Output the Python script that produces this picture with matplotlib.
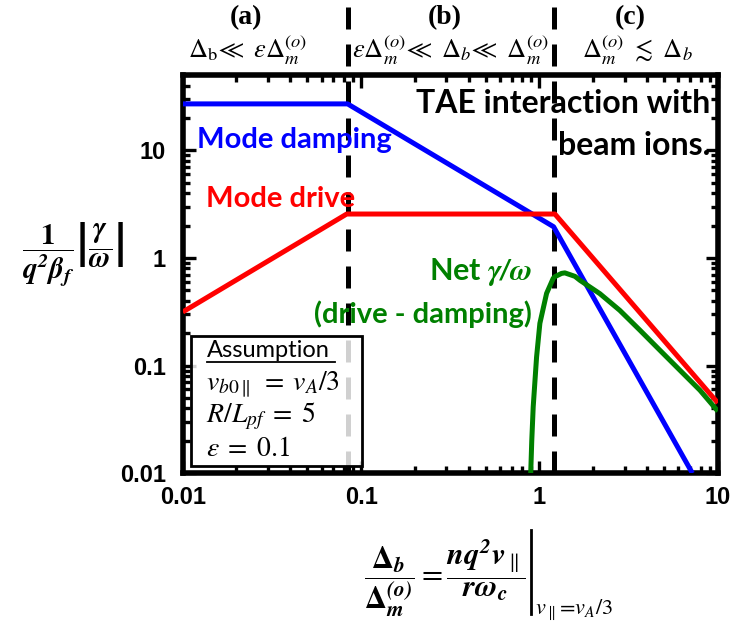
import matplotlib
matplotlib.use("Agg")
import matplotlib.pyplot as plt
from matplotlib.lines import Line2D
from matplotlib.patches import Rectangle

# ---- data ----
x_damp = [0.01, 0.084, 1.2, 7.2]
y_damp = [27.0, 27.0, 1.95, 0.01]

x_drive = [0.01, 0.083, 1.22, 10.0]
y_drive = [0.315, 2.56, 2.56, 0.045]

x_net = [0.889, 0.905, 0.922, 0.963, 1.005, 1.096, 1.194, 1.22, 1.33, 1.387, 1.58, 1.686,
         2.18, 2.82, 3.66, 4.73, 6.13, 7.94, 10.0]
y_net = [0.008, 0.02, 0.0413, 0.120, 0.247, 0.469, 0.647, 0.67, 0.719, 0.727, 0.675, 0.620,
         0.466, 0.326, 0.213, 0.139, 0.0905, 0.059, 0.0377]

regime_bounds = [0.084, 1.2]
x_ticks = [0.01, 0.1, 1, 10]
x_ticklabels = ["0.01", "0.1", "1", "10"]
y_ticks = [0.01, 0.1, 1, 10]
y_ticklabels = ["0.01", "0.1", "1", "10"]

plt.rcParams['mathtext.fontset'] = 'stix'
plt.rcParams['font.family'] = ['Liberation Sans', 'DejaVu Sans']

fig = plt.figure(figsize=(7.34, 6.31), dpi=100)
ax = fig.add_axes([0.249, 0.250, 0.729, 0.631])
ax.set_xscale('log')
ax.set_yscale('log')
ax.set_xlim(0.01, 10)
ax.set_ylim(0.01, 50)

lw = 3.6
ax.plot(x_damp, y_damp, color='#0000ff', lw=lw, solid_capstyle='butt', zorder=3)
ax.plot(x_drive, y_drive, color='#ff0000', lw=lw, solid_capstyle='butt', zorder=3)
ax.plot(x_net, y_net, color='#008000', lw=lw, solid_capstyle='butt', zorder=4)

for xb in regime_bounds:
    ax.axvline(xb, ymin=0, ymax=1.19, color='black', lw=3.6, dashes=(4.4, 3.0),
               clip_on=False, zorder=2)

ax.set_xticks(x_ticks)
ax.set_xticklabels(x_ticklabels)
ax.set_yticks(y_ticks)
ax.set_yticklabels(y_ticklabels)
ax.tick_params(which='both', direction='in', top=True, right=True, width=2.4, labelsize=17,
               color='black')
ax.tick_params(which='major', length=9)
ax.tick_params(which='minor', length=5)
for lab in ax.get_xticklabels() + ax.get_yticklabels():
    lab.set_fontweight('bold')
ax.tick_params(axis='x', which='both', pad=9)
ax.tick_params(axis='y', which='both', pad=12)
for s in ax.spines.values():
    s.set_linewidth(4)

# in-plot labels
sans = ['Lato', 'DejaVu Sans']
fs = 21
ax.text(0.026, 0.837, 'Mode damping', transform=ax.transAxes, color='#0000ff',
        fontsize=fs, fontweight='bold', family=sans, ha='left', va='center')
ax.text(0.043, 0.688, 'Mode drive', transform=ax.transAxes, color='#ff0000',
        fontsize=fs, fontweight='bold', family=sans, ha='left', va='center')
ax.text(0.985, 0.928, 'TAE interaction with', transform=ax.transAxes, color='black',
        fontsize=23, fontweight='bold', family=sans, ha='right', va='center')
ax.text(0.985, 0.824, 'beam ions.', transform=ax.transAxes, color='black',
        fontsize=23, fontweight='bold', family=sans, ha='right', va='center')
ax.text(0.652, 0.505, r'Net $\mathbfit{\gamma/\omega}$', transform=ax.transAxes, color='#008000',
        fontsize=22, fontweight='bold', family=sans, ha='right', va='center')
ax.text(0.652, 0.40, '(drive - damping)', transform=ax.transAxes, color='#008000',
        fontsize=fs, fontweight='bold', family=sans, ha='right', va='center')

# assumption box
bx, by, bw, bh = 0.015, 0.017, 0.32, 0.328
box = Rectangle((bx, by), bw, bh, transform=ax.transAxes, facecolor='white',
                alpha=0.82, edgecolor='none', zorder=5)
ax.add_patch(box)
box2 = Rectangle((bx, by), bw, bh, transform=ax.transAxes, facecolor='none',
                 edgecolor='black', lw=2.0, zorder=6)
ax.add_patch(box2)
ax.text(0.046, 0.309, 'Assumption', transform=ax.transAxes, fontsize=17, family=sans,
        ha='left', va='center', zorder=7)
ax.add_line(Line2D([0.046, 0.285], [0.279, 0.279], transform=ax.transAxes, color='black',
                   lw=1.3, zorder=7))
ax.text(0.044, 0.222, r'$v_{b0\parallel}\;=\;v_A/3$', transform=ax.transAxes, fontsize=20,
        ha='left', va='center', zorder=7)
ax.text(0.044, 0.144, r'$R/L_{pf}\;=\;5$', transform=ax.transAxes, fontsize=20,
        ha='left', va='center', zorder=7)
ax.text(0.044, 0.062, r'$\epsilon\;=\;0.1$', transform=ax.transAxes, fontsize=20,
        ha='left', va='center', zorder=7)

# regime labels above the axes
for xc, lab in [(246, '(a)'), (445, '(b)'), (630, '(c)')]:
    fig.text(xc / 734, 1 - 18 / 631, lab, fontsize=20, fontweight='bold',
             family=['Liberation Serif', 'DejaVu Serif'], ha='center', va='center')
for xc, lab in [(248, r'$\Delta_{\mathrm{b}}\!\ll\ \epsilon\Delta_m^{(o)}$'),
                (450, r'$\epsilon\Delta_m^{(o)}\!\ll\ \Delta_b\!\ll\ \Delta_m^{(o)}$'),
                (637, r'$\Delta_m^{(o)}\ \lesssim\ \Delta_b$')]:
    fig.text(xc / 734, 1 - 50 / 631, lab, fontsize=19, ha='center', va='center')

# axis labels
fig.text(73 / 734, 1 - 255 / 631,
         r'$\dfrac{\mathbf{1}}{\mathbfit{q^2\beta_f}}\left|\mathbfit{\dfrac{\gamma}{\omega}}\right|$',
         fontsize=21, ha='center', va='center')
fig.text(526 / 734, 1 - 578 / 631,
         r'$\dfrac{\mathbf{\Delta}_{\mathbfit{b}}}{\mathbf{\Delta}_{\mathbfit{m}}^{\mathbfit{(o)}}}=\dfrac{\mathbfit{nq^2v}_{\parallel}}{\mathbfit{r\omega_c}}$',
         fontsize=22, ha='right', va='center')
fig.add_artist(Line2D([531 / 734, 531 / 734], [1 - 530 / 631, 1 - 614 / 631],
                      transform=fig.transFigure, color='black', lw=2.0))
fig.text(535 / 734, 1 - 610 / 631, r'$v_\parallel\!=\!v_A/3$', fontsize=16,
         ha='left', va='center')

fig.savefig('out.png', dpi=100)
